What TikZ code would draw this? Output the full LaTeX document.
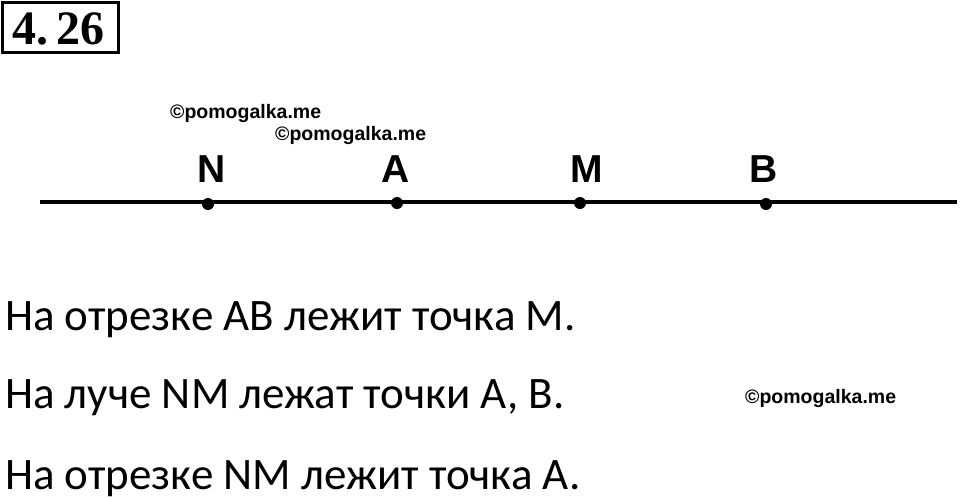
\documentclass[tikz,border=0pt]{standalone}
\usepackage{fontspec}
\setmainfont{Carlito}
\newfontfamily\wmfont{Liberation Sans}
\newfontfamily\numfont{Liberation Serif}
\begin{document}
\begin{tikzpicture}[x=1pt,y=-1pt,
  wm/.style={inner sep=0pt,anchor=base west,font=\wmfont\bfseries\fontsize{19.5}{22}\selectfont},
  txt/.style={inner sep=0pt,anchor=base west,font=\fontsize{45}{50}\selectfont},
  lbl/.style={inner sep=0pt,anchor=base,font=\wmfont\bfseries\fontsize{39}{42}\selectfont},
  dot/.style={circle,fill=black,inner sep=0pt,minimum size=12pt}]
\useasboundingbox (0,0) rectangle (960,499);
% title box
\draw[line width=3pt] (2.5,2.5) rectangle (118,52);
\node[inner sep=0pt,anchor=base west,font=\numfont\bfseries\fontsize{48}{50}\selectfont] (title) at (12,44) {4.\,26};
% line
\coordinate (L) at (40,202);
\coordinate (R) at (957,202);
\draw[line width=4pt] (L) -- (R);
\node[dot] (pN) at (208,204) {};
\node[dot] (pA) at (397,203) {};
\node[dot] (pM) at (580,203) {};
\node[dot] (pB) at (766,204) {};
\node[lbl] (lN) at (212,182) {N};
\node[lbl] (lA) at (396,182) {A};
\node[lbl] (lM) at (587,182) {M};
\node[lbl] (lB) at (764,182) {B};
% watermarks
\node[wm] (w1) at (170,118) {©pomogalka.me};
\node[wm] (w2) at (275,140) {©pomogalka.me};
\node[wm] (w3) at (745,403) {©pomogalka.me};
% text
\node[txt] (t1) at (5,330) {На отрезке АВ лежит точка М.};
\node[txt] (t2) at (5,408) {На луче NM лежат точки А, В.};
\node[txt] (t3) at (5,489) {На отрезке NM лежит точка А.};
\end{tikzpicture}
\end{document}
